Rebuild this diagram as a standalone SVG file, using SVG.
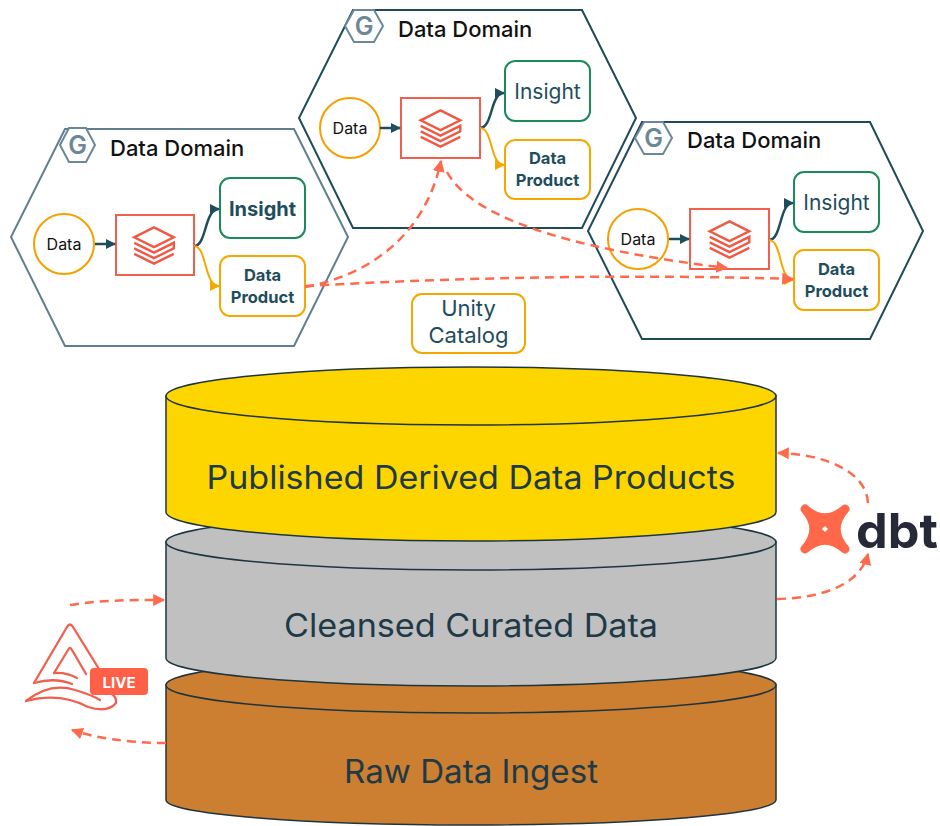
<svg xmlns="http://www.w3.org/2000/svg" xmlns:xlink="http://www.w3.org/1999/xlink" width="940" height="826" viewBox="0 0 940 826">
  <defs>
    <style>
      text { font-family: "Inter", "Liberation Sans", sans-serif; }
      .hex { fill: #ffffff; stroke-width: 2; }
      .hex-light { stroke: #5f7f8e; }
      .hex-dark { stroke: #1e4a5a; }
      .gicon { fill: #ffffff; stroke: #6b8898; stroke-width: 2; }
      .gtxt { fill: #6b8898; font-size: 25px; font-weight: 600; text-anchor: middle; }
      .title { fill: #111111; font-size: 22px; font-weight: 500; }
      .src { fill: #ffffff; stroke: #f5a000; stroke-width: 2; }
      .srctxt { fill: #111111; font-size: 16px; text-anchor: middle; }
      .proc { fill: #ffffff; stroke: #f0604d; stroke-width: 2; }
      .ins { fill: #ffffff; stroke: #1a8a5a; stroke-width: 2; }
      .prod { fill: #ffffff; stroke: #f5a800; stroke-width: 2; }
      .lbl { fill: #1e4d5c; text-anchor: middle; }
      .b16 { font-size: 16.5px; font-weight: 700; }
      .teal { fill: none; stroke: #1e4d5c; stroke-width: 2.5; }
      .amber { fill: none; stroke: #f5a800; stroke-width: 2; }
      .dash { fill: none; stroke: #ff6a4d; stroke-width: 2.5; stroke-dasharray: 9 6; }
      .cyl { stroke: #1e3540; stroke-width: 1.5; }
      .cyltxt { fill: #1e3a48; font-size: 32px; text-anchor: middle; }
    </style>
    <marker id="mTeal" viewBox="0 0 10 10" refX="9" refY="5" markerWidth="10" markerHeight="10" markerUnits="userSpaceOnUse" orient="auto">
      <path d="M0,0 L10,5 L0,10 z" fill="#1e4d5c"/>
    </marker>
    <marker id="mAmber" viewBox="0 0 10 10" refX="9" refY="5" markerWidth="10" markerHeight="10" markerUnits="userSpaceOnUse" orient="auto">
      <path d="M0,0 L10,5 L0,10 z" fill="#f5a800"/>
    </marker>
    <marker id="mRed" viewBox="0 0 10 10" refX="9" refY="5" markerWidth="12" markerHeight="12" markerUnits="userSpaceOnUse" orient="auto">
      <path d="M0,0 L10,5 L0,10 z" fill="#ff6a4d"/>
    </marker>
    <!-- stacked layers glyph used inside processing boxes -->
    <symbol id="layers" viewBox="-20 -18 40 36" overflow="visible">
      <g fill="none" stroke="#ef5a45" stroke-width="2.2" stroke-linejoin="miter">
        <path d="M0,-16 L18,-7 L0,2 L-18,-7 Z"/>
        <path d="M-18,-2 L0,7 L18,-2 L18,3 L0,12 L-18,3"/>
        <path d="M-18,8 L0,17 L18,8"/>
      </g>
    </symbol>
  </defs>

  <rect width="940" height="826" fill="#ffffff"/>

  <!-- storage tiers, bottom to top -->
  <g id="raw-tier">
    <path class="cyl" fill="#cc7f30" d="M166,685 L166,800 A305,25 0 0 0 776,800 L776,685 Z"/>
    <ellipse class="cyl" fill="#cc7f30" cx="471" cy="685" rx="305" ry="28"/>
    <text class="cyltxt" x="471" y="783" textLength="254" lengthAdjust="spacingAndGlyphs">Raw Data Ingest</text>
  </g>
  <g id="curated-tier">
    <path class="cyl" fill="#c0c0c0" d="M166,542 L166,658 A305,28 0 0 0 776,658 L776,542 Z"/>
    <ellipse class="cyl" fill="#c0c0c0" cx="471" cy="542" rx="305" ry="28"/>
    <text class="cyltxt" x="471" y="637" textLength="374" lengthAdjust="spacingAndGlyphs">Cleansed Curated Data</text>
  </g>
  <g id="published-tier">
    <path class="cyl" fill="#fdd600" d="M166,396 L166,512 A305,29 0 0 0 776,512 L776,396 Z"/>
    <ellipse class="cyl" fill="#fdd600" cx="471" cy="396" rx="305" ry="29"/>
    <text class="cyltxt" x="471" y="489" textLength="529" lengthAdjust="spacingAndGlyphs">Published Derived Data Products</text>
  </g>

  <!-- left domain -->
  <g id="domain-left">
    <polygon class="hex hex-light" points="65,129 294,129 348,237 294,346 65,346 11,237"/>
    <polygon class="gicon" points="60,145 69,128 86,128 95,145 86,162 69,162"/>
    <text class="gtxt" x="77.5" y="154">G</text>
    <text class="title" x="110" y="156">Data Domain</text>
  </g>
  <g id="left-data">
    <circle class="src" cx="64" cy="244" r="30"/>
    <text class="srctxt" x="64" y="250">Data</text>
  </g>
  <g id="left-proc">
    <rect class="proc" x="116" y="215" width="78" height="60"/>
    <use href="#layers" xlink:href="#layers" x="132" y="225" width="44" height="40"/>
  </g>
  <g id="left-insight">
    <rect class="ins" x="220" y="178" width="85" height="60" rx="10"/>
    <text class="lbl" x="262.5" y="216" font-size="20" font-weight="700">Insight</text>
  </g>
  <g id="left-product">
    <rect class="prod" x="220" y="256" width="85" height="60" rx="10"/>
    <text class="lbl b16" x="262.5" y="281">Data</text>
    <text class="lbl b16" x="262.5" y="303">Product</text>
  </g>

  <!-- middle domain -->
  <g id="domain-middle">
    <polygon class="hex hex-dark" points="353,10 582,10 636,118 582,228 353,228 299,118"/>
    <polygon class="gicon" points="345,26 354,10 374,10 383,26 374,42 354,42"/>
    <text class="gtxt" x="364" y="35">G</text>
    <text class="title" x="398" y="37">Data Domain</text>
  </g>
  <g id="middle-data">
    <circle class="src" cx="350" cy="128" r="30"/>
    <text class="srctxt" x="350" y="134">Data</text>
  </g>
  <g id="middle-proc">
    <rect class="proc" x="401" y="98" width="79" height="60"/>
    <use href="#layers" xlink:href="#layers" x="418.5" y="108" width="44" height="40"/>
  </g>
  <g id="middle-insight">
    <rect class="ins" x="505" y="61" width="85" height="60" rx="10"/>
    <text class="lbl" x="547.5" y="99" font-size="21">Insight</text>
  </g>
  <g id="middle-product">
    <rect class="prod" x="505" y="140" width="85" height="59" rx="10"/>
    <text class="lbl b16" x="547.5" y="164">Data</text>
    <text class="lbl b16" x="547.5" y="186">Product</text>
  </g>

  <!-- right domain -->
  <g id="domain-right">
    <polygon class="hex hex-dark" points="642,122 870,122 923,231 870,339 642,339 588,231"/>
    <polygon class="gicon" points="635,138 644,122 663,122 672,138 663,154 644,154"/>
    <text class="gtxt" x="653.5" y="147">G</text>
    <text class="title" x="687" y="148">Data Domain</text>
  </g>
  <g id="right-data">
    <circle class="src" cx="638" cy="239" r="30"/>
    <text class="srctxt" x="638" y="245">Data</text>
  </g>
  <g id="right-proc">
    <rect class="proc" x="690" y="209" width="79" height="60"/>
    <use href="#layers" xlink:href="#layers" x="707.5" y="219" width="44" height="40"/>
  </g>
  <g id="right-insight">
    <rect class="ins" x="794" y="172" width="85" height="60" rx="10"/>
    <text class="lbl" x="836.5" y="210" font-size="21">Insight</text>
  </g>
  <g id="right-product">
    <rect class="prod" x="794" y="250" width="85" height="60" rx="10"/>
    <text class="lbl b16" x="836.5" y="275">Data</text>
    <text class="lbl b16" x="836.5" y="297">Product</text>
  </g>

  <!-- catalog -->
  <g id="unity-catalog">
    <rect class="prod" x="412" y="294" width="113" height="59" rx="10"/>
    <text class="lbl" x="468.5" y="316" font-size="22">Unity</text>
    <text class="lbl" x="468.5" y="343" font-size="22">Catalog</text>
  </g>

  <!-- dbt mark: four-armed cross with a small centre notch -->
  <g id="dbt">
    <path fill="#ff694a" stroke="#ff694a" stroke-width="9" stroke-linejoin="round" d="M805,509 Q825,527 845,509 Q827,529 845,549 Q825,531 805,549 Q823,529 805,509 Z"/>
    <path fill="#ffffff" d="M825,526 L828,529 L825,532 L822,529 Z"/>
    <text x="856" y="548" font-size="48" font-weight="700" fill="#262a38" textLength="82" lengthAdjust="spacingAndGlyphs">dbt</text>
  </g>

  <!-- live pipelines mark -->
  <g id="live-pipelines" fill="none" stroke="#f0604d" stroke-width="2.3" stroke-linejoin="round" stroke-linecap="round">
    <path d="M34,683 L67,627 Q70,622 73,627 L99,669"/>
    <path d="M54,673 L68,650 Q70,646 72,650 L86,674"/>
    <path d="M54,673 Q66,672 77,678"/>
    <path d="M34,683 Q55,677 72,684"/>
    <path d="M26,701 Q50,682 75,690 Q92,695 100,700"/>
    <path d="M26,701 Q60,692 88,707 Q108,713 116,703 Q117,698 112,694"/>
    <rect x="90" y="668" width="58" height="27" rx="4" fill="#ff6047" stroke="none"/>
    <text x="119" y="688" font-size="15" font-weight="700" fill="#ffffff" stroke="none" text-anchor="middle" font-family="Liberation Sans Narrow, Liberation Sans, sans-serif">LIVE</text>
  </g>

  <!-- connectors -->
  <g id="connectors">
    <path class="teal" d="M95,244 L115,244" marker-end="url(#mTeal)"/>
    <path class="teal" d="M194,246 C207,246 204,209 219,209" marker-end="url(#mTeal)"/>
    <path class="amber" d="M194,246 C207,246 204,286 219,286" marker-end="url(#mAmber)"/>

    <path class="teal" d="M380,128 L400,128" marker-end="url(#mTeal)"/>
    <path class="teal" d="M480,128 C493,128 490,93 504,93" marker-end="url(#mTeal)"/>
    <path class="amber" d="M480,128 C493,128 490,165 504,165" marker-end="url(#mAmber)"/>

    <path class="teal" d="M669,239 L689,239" marker-end="url(#mTeal)"/>
    <path class="teal" d="M769,240 C782,240 779,203 793,203" marker-end="url(#mTeal)"/>
    <path class="amber" d="M769,240 C782,240 779,280 793,280" marker-end="url(#mAmber)"/>

    <path class="dash" d="M305,287 C370,275 425,235 441,161" marker-end="url(#mRed)"/>
    <path class="dash" d="M447,172 C470,215 560,248 727,268" marker-end="url(#mRed)"/>
    <path class="dash" d="M305,286 Q560,272 793,279" marker-end="url(#mRed)"/>

    <path class="dash" d="M868,503 C866,470 822,454 778,453" marker-end="url(#mRed)"/>
    <path class="dash" d="M777,599 C822,598 860,585 868,554" marker-end="url(#mRed)"/>

    <path class="dash" d="M70,605 C100,600 130,600 164,600" marker-end="url(#mRed)"/>
    <path class="dash" d="M166,743 C130,743 95,738 72,730" marker-end="url(#mRed)"/>
  </g>
</svg>
